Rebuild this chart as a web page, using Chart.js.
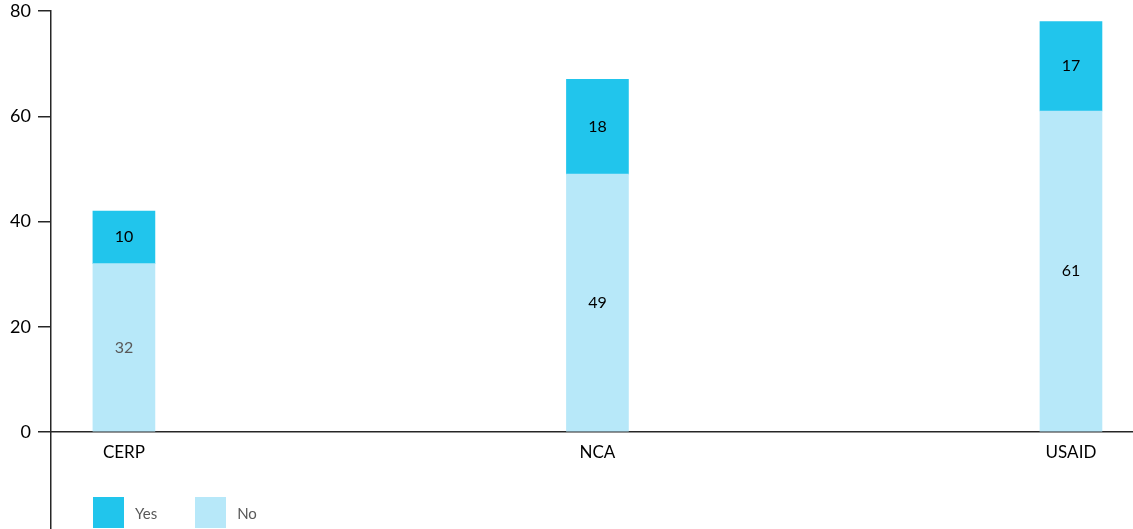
<!DOCTYPE html>
<html>
<head>
<meta charset="utf-8">
<script src="https://cdn.jsdelivr.net/npm/chart.js@4/dist/chart.umd.min.js"></script>
<style>
  html, body { margin: 0; padding: 0; background: #fff; }
  #wrap { position: relative; width: 1133px; height: 529px; overflow: hidden; }
  #legend { position: absolute; left: 93px; top: 497px; display: flex; font-family: Lato, sans-serif; font-size: 15px; color: #595959; }
  .item { display: flex; align-items: center; margin-right: 38px; }
  .sw { width: 31px; height: 31px; margin-right: 11px; }
</style>
</head>
<body>
<div id="wrap">
  <canvas id="c" width="1133" height="529"></canvas>
  <div id="legend"></div>
</div>
<script>
// ---- data ----
const categories = ['CERP', 'NCA', 'USAID'];
const yesValues = [10, 18, 17];
const noValues = [32, 49, 61];
const yTicks = [0, 20, 40, 60, 80];

// ---- styles ----
const yesColor = '#21C5EC';
const noColor = '#B7E8F9';
const noLabelColors = ['#595959', '#000000', '#000000'];
const yesLabelColors = ['#000000', '#000000', '#000000'];
const axisColor = '#262626';

const toPoints = vals => vals.map((v, i) => ({ x: i, y: v }));

const valueLabels = {
  id: 'valueLabels',
  afterDatasetsDraw(chart) {
    const ctx = chart.ctx;
    ctx.save();
    ctx.font = '16px Lato, sans-serif';
    ctx.textAlign = 'center';
    ctx.textBaseline = 'middle';
    chart.data.datasets.forEach((ds, di) => {
      const meta = chart.getDatasetMeta(di);
      meta.data.forEach((el, i) => {
        const y = (el.y + el.base) / 2;
        ctx.fillStyle = ds.labelColors[i];
        ctx.fillText(String(ds.data[i].y), el.x, y);
      });
    });
    ctx.restore();
  }
};

const chart = new Chart(document.getElementById('c'), {
  type: 'bar',
  data: {
    datasets: [
      { label: 'No', data: toPoints(noValues), backgroundColor: noColor, labelColors: noLabelColors, barThickness: 62 },
      { label: 'Yes', data: toPoints(yesValues), backgroundColor: yesColor, labelColors: yesLabelColors, barThickness: 62 }
    ]
  },
  options: {
    responsive: false,
    animation: false,
    layout: { padding: { top: 11, right: 0, bottom: 0, left: 0 } },
    plugins: { legend: { display: false }, tooltip: { enabled: false } },
    scales: {
      x: {
        type: 'linear',
        stacked: true,
        offset: false,
        position: { y: 0 },
        min: -0.154,
        max: 2.131,
        z: 1,
        afterBuildTicks: s => { s.ticks = categories.map((_, i) => ({ value: i })); },
        afterFit: s => { s.paddingTop = 0; s.paddingBottom = 0; },
        ticks: {
          callback: v => categories[v],
          autoSkip: false, maxRotation: 0,
          font: { family: 'Lato, sans-serif', size: 17 },
          color: '#000', padding: 2
        },
        grid: { display: false, offset: false },
        border: { display: true, color: axisColor, width: 1.5 }
      },
      y: {
        stacked: true,
        min: -18.43,
        max: 80,
        afterBuildTicks: s => { s.ticks = yTicks.map(v => ({ value: v })); },
        afterFit: s => { s.width = 51; s.paddingTop = 0; s.paddingBottom = 0; },
        ticks: {
          font: { family: 'Lato, sans-serif', size: 18 },
          color: '#000', padding: 7
        },
        grid: { drawOnChartArea: false, drawTicks: true, tickLength: 13, color: axisColor, lineWidth: 1.5 },
        border: { display: true, color: axisColor, width: 1.5 }
      }
    }
  },
  plugins: [valueLabels]
});

// HTML legend built from the chart datasets (Yes first, then No)
const legend = document.getElementById('legend');
[1, 0].forEach(di => {
  const ds = chart.data.datasets[di];
  const item = document.createElement('div');
  item.className = 'item';
  const sw = document.createElement('div');
  sw.className = 'sw';
  sw.style.background = ds.backgroundColor;
  const t = document.createElement('span');
  t.textContent = ds.label;
  item.appendChild(sw); item.appendChild(t);
  legend.appendChild(item);
});
</script>
</body>
</html>
